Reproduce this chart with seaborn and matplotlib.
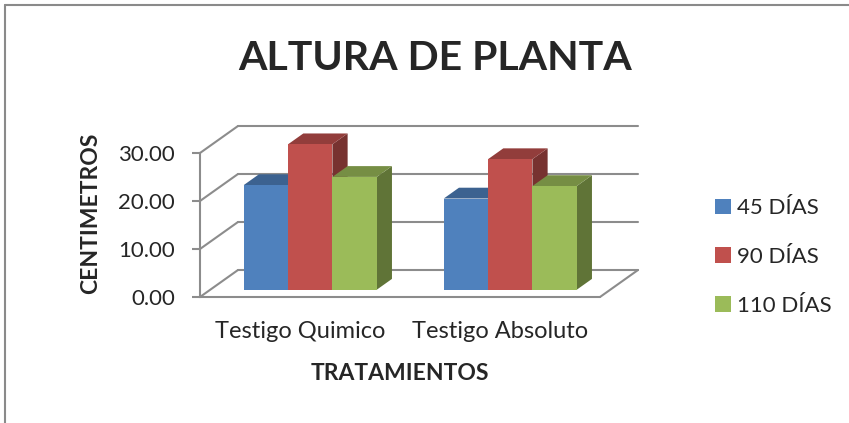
import numpy as np
import pandas as pd
import matplotlib
matplotlib.use("Agg")
import matplotlib.pyplot as plt
from matplotlib.patches import Polygon
from matplotlib.lines import Line2D
import seaborn as sns

# ---- data ----
categories = ["Testigo Quimico", "Testigo Absoluto"]
series = ["45 DÍAS", "90 DÍAS", "110 DÍAS"]
d45 = [21.8, 19.0]
d90 = [30.3, 27.2]
d110 = [23.5, 21.6]
yticks = [0, 10, 20, 30]
colors = ["#4F81BD", "#C0504D", "#9BBB59"]

rows = []
for s, vals in zip(series, [d45, d90, d110]):
    for c, v in zip(categories, vals):
        rows.append({"tratamiento": c, "altura": v, "serie": s})
df = pd.DataFrame(rows)

sns.set_style("white")
plt.rcParams["font.family"] = ["Lato", "DejaVu Sans"]

W, H = 849, 423
fig = plt.figure(figsize=(W / 100, H / 100), dpi=100)
# axes in pixel layout
L, R, T, B = 200, 640, 120, 300
ax = fig.add_axes([L / W, 1 - B / H, (R - L) / W, (B - T) / H])

sns.barplot(data=df, x="tratamiento", y="altura", hue="serie", palette=colors,
            width=0.665, saturation=1, ax=ax, edgecolor="none", linewidth=0,
            errorbar=None)

px_y = 4.8           # pixels per cm on the plane
px_x = 200.0         # pixels per category
ax.set_xlim(-0.5, -0.5 + (R - L) / px_x)
ax.set_ylim(-(B - 297) / px_y, (297 - T) / px_y)

# depth vector (data units)
Dx, Dy = 38 / px_x, 27 / px_y
f0, fd = 0.27, 0.40
sx, sy = f0 * Dx, f0 * Dy
ddx, ddy = fd * Dx, fd * Dy

def shade(c, k):
    r, g, b = matplotlib.colors.to_rgb(c)
    return (r * k, g * k, b * k)

bars = [p for p in ax.patches if p.get_width() > 0 and p.get_height() > 0]
bars.sort(key=lambda p: p.get_x())
for i, p in enumerate(bars):
    x0, w, h = p.get_x(), p.get_width(), p.get_height()
    p.set_x(x0 + sx)
    p.set_y(p.get_y() + sy)
    x0, y0 = p.get_x(), p.get_y()
    fc = p.get_facecolor()
    z = 3 + i * 0.1
    side = Polygon([(x0 + w, y0), (x0 + w + ddx, y0 + ddy),
                    (x0 + w + ddx, y0 + h + ddy), (x0 + w, y0 + h)],
                   closed=True, facecolor=shade(fc, 0.62), edgecolor="none", zorder=z)
    top = Polygon([(x0, y0 + h), (x0 + w, y0 + h),
                   (x0 + w + ddx, y0 + h + ddy), (x0 + ddx, y0 + h + ddy)],
                  closed=True, facecolor=shade(fc, 0.76), edgecolor="none", zorder=z + 0.01)
    ax.add_patch(side)
    ax.add_patch(top)
    p.set_zorder(z + 0.02)

# walls / gridlines
gc = "#8c8c8c"
glw = 1.5
x_left, x_right = -0.5, 1.5
for v in yticks:
    ax.plot([x_left + Dx, x_right + Dx], [v + Dy, v + Dy], color=gc, lw=glw, zorder=1, clip_on=False)
    ax.plot([x_left, x_left + Dx], [v, v + Dy], color=gc, lw=glw, zorder=1, clip_on=False)
ax.plot([x_left, x_right], [0, 0], color=gc, lw=glw, zorder=1, clip_on=False)
ax.plot([x_right, x_right + Dx], [0, Dy], color=gc, lw=glw, zorder=1, clip_on=False)

for s in ["top", "right", "bottom"]:
    ax.spines[s].set_visible(False)
ax.spines["left"].set_bounds(0, 30)
ax.spines["left"].set_color(gc)
ax.spines["left"].set_linewidth(glw)

ax.set_yticks(yticks)
ax.set_yticklabels([f"{v:.2f}" for v in yticks])
ax.tick_params(axis="y", direction="out", length=6, width=glw, color=gc,
               labelsize=16, pad=12, left=True)
ax.tick_params(axis="x", length=0, labelsize=17, pad=15)

ax.set_xlabel("TRATAMIENTOS", fontsize=16.5, fontweight="bold")
ax.xaxis.label.set_va("center")
ax.xaxis.set_label_coords((400 - L) / (R - L), (B - 373) / (B - T))
ax.set_ylabel("CENTIMETROS", fontsize=16.5, fontweight="bold")
ax.yaxis.label.set_va("center")
ax.yaxis.set_label_coords((91 - L) / (R - L), (B - 213.5) / (B - T))

handles, labels = ax.get_legend_handles_labels()
ax.legend(handles, labels, loc="center left", bbox_to_anchor=(715 / W, 1 - 257 / H),
          bbox_transform=fig.transFigure, frameon=False, fontsize=16,
          handlelength=0.7, handleheight=0.7, handletextpad=0.3,
          labelspacing=1.3, borderaxespad=0, borderpad=0)

fig.text(435.5 / W, 1 - 58 / H, "ALTURA DE PLANTA", ha="center", va="center",
         fontsize=29.5, fontweight="bold")

# outer frame
fig.add_artist(Line2D([5 / W, 1.0], [1 - 5 / H, 1 - 5 / H], transform=fig.transFigure,
                      color="#8a8a8a", lw=1.5))
fig.add_artist(Line2D([5 / W, 5 / W], [0, 1 - 5 / H], transform=fig.transFigure,
                      color="#8a8a8a", lw=1.5))

fig.savefig("out.png", dpi=100)
